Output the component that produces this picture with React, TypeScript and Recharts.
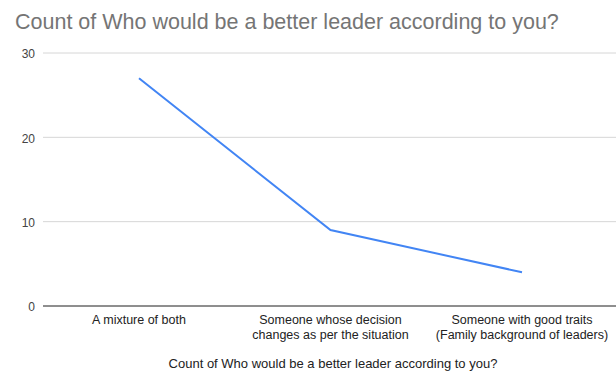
import { LineChart, Line, XAxis, YAxis, CartesianGrid } from 'recharts'

const categories = [
  'A mixture of both',
  'Someone whose decision\nchanges as per the situation',
  'Someone with good traits\n(Family background of leaders)',
]
const counts = [27, 9, 4]
const yTicks = [0, 10, 20, 30]

const title = 'Count of Who would be a better leader according to you?'
const font = 'Liberation Sans, Arial, sans-serif'

const data = categories.map((label, i) => ({ label, count: counts[i] }))

function CategoryTick({ x, y, payload }: any) {
  const lines = String(payload.value).split('\n')
  return (
    <text x={x} y={y} textAnchor="middle" fill="#222" fontSize={12.5} fontFamily={font}>
      {lines.map((line, i) => (
        <tspan key={i} x={x} dy={i === 0 ? 10 : 14.5}>
          {line}
        </tspan>
      ))}
    </text>
  )
}

export default function App() {
  return (
    <div style={{ position: 'fixed', left: 0, top: 0, width: 616, height: 371, background: '#fff' }}>
      <div
        style={{
          position: 'absolute',
          left: 15,
          top: 10,
          fontFamily: font,
          fontSize: 21.5,
          color: '#757575',
          whiteSpace: 'nowrap',
        }}
      >
        {title}
      </div>
      <LineChart width={616} height={371} data={data} margin={{ top: 53, right: 0, bottom: 35, left: 13 }}>
        <CartesianGrid horizontal vertical={false} stroke="#d6d6d6" />
        <XAxis
          dataKey="label"
          interval={0}
          padding={{ left: 96, right: 94 }}
          axisLine={{ stroke: '#333' }}
          tickLine={false}
          tick={<CategoryTick />}
        />
        <YAxis
          width={30}
          domain={[0, 30]}
          ticks={yTicks}
          axisLine={false}
          tickLine={false}
          tick={{ fill: '#444', fontSize: 12, fontFamily: font, dy: 1 }}
        />
        <Line
          type="linear"
          dataKey="count"
          stroke="#4285f4"
          strokeWidth={2}
          dot={false}
          isAnimationActive={false}
        />
        <text x={333} y={368} textAnchor="middle" fill="#222" fontSize={13} fontFamily={font}>
          {title}
        </text>
      </LineChart>
    </div>
  )
}
